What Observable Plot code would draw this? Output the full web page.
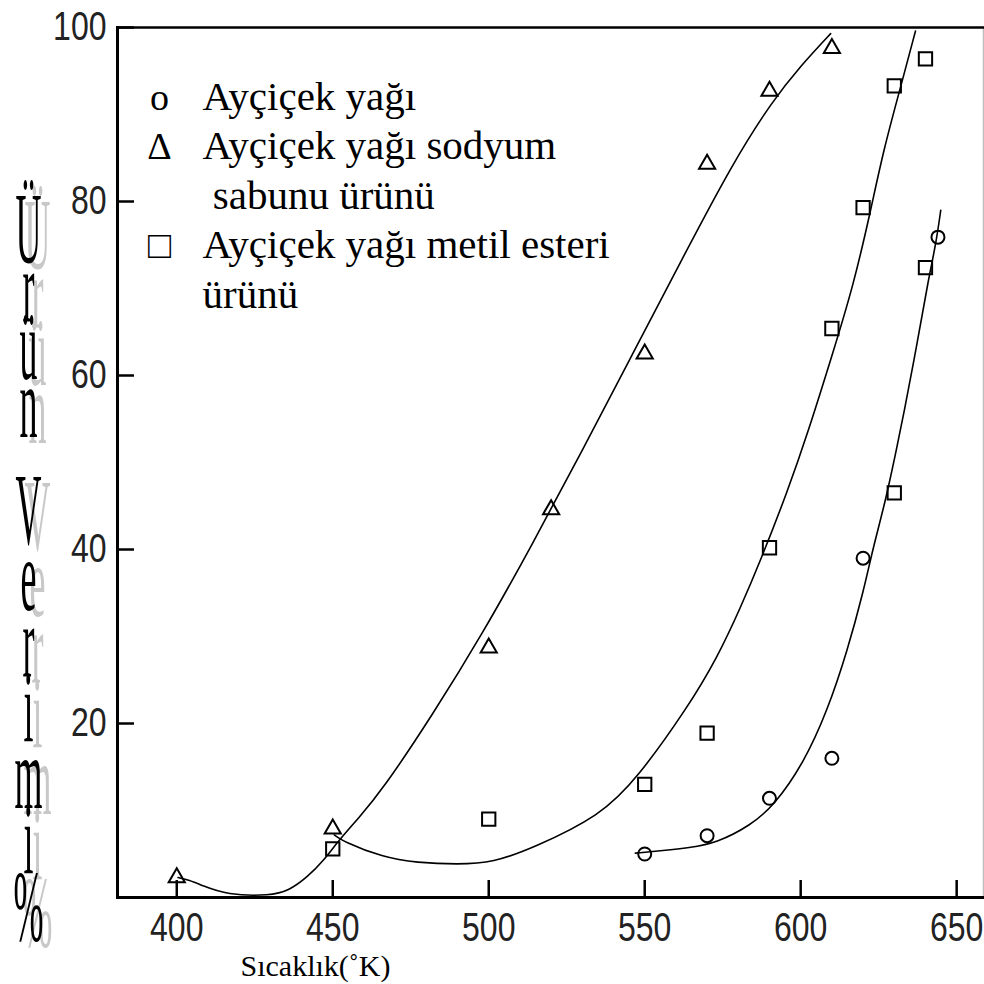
<!DOCTYPE html>
<html><head><meta charset="utf-8">
<script src="https://cdn.jsdelivr.net/npm/d3@7"></script>
<script src="https://cdn.jsdelivr.net/npm/@observablehq/plot@0.6"></script>
<style>
html,body{margin:0;padding:0;background:#fff;}
</style></head><body><div id="chart"></div>
<script>
// ---- data ----
const xTicks = [400, 450, 500, 550, 600, 650];
const yTickMarks = [0, 20, 40, 60, 80, 100];
const yTickLabels = ["", "20", "40", "60", "80", "100"];

// markers
const yagX = [550, 570, 590, 610, 620, 644];           // o  Ayçiçek yağı
const yagY = [5.0, 7.1, 11.4, 16.0, 39.0, 75.9];
const sabunX = [400, 450, 500, 520, 550, 570, 590, 610]; // Δ  sodyum sabunu ürünü
const sabunY = [2.3, 7.9, 28.7, 44.6, 62.5, 84.3, 92.7, 97.6];
const esterX = [450, 500, 550, 570, 590, 610, 620, 630, 640, 630, 640]; // □ metil esteri ürünü
const esterY = [5.6, 9.0, 13.0, 18.9, 40.2, 65.4, 79.3, 93.3, 96.4, 46.5, 72.4];

// fitted curves
const sabunCurveX = [400.4, 404, 408, 416, 430, 436, 441.7, 447, 452, 458, 466, 482, 498, 514, 530, 546, 562, 578, 591, 600, 609.6];
const sabunCurveY = [2.3, 2.0, 1.4, 0.3, 0.2, 0.8, 2.3, 4.2, 6.6, 9.0, 12.4, 21.0, 30.3, 40.6, 51.4, 62.4, 73.4, 84.3, 91.6, 95.6, 99.3];
const esterCurveX = [450.5, 453.0, 466.1, 477.0, 490, 501.4, 514.3, 535.8, 547.6, 563.7, 573.3, 580.7, 587.1, 595.8, 602.2, 610.5, 617.0, 622.4, 626.6, 632.0, 636.8];
const esterCurveY = [7.2, 6.5, 4.6, 4.0, 3.8, 4.0, 5.7, 9.4, 13.7, 21.8, 27.6, 33.3, 38.7, 46.7, 53.3, 62.8, 70.5, 78.9, 86.0, 93.1, 99.6];
const yagCurveX = [547.0, 556, 564.0, 573.3, 583.9, 591.3, 600.9, 608.6, 615.0, 620.2, 623.0, 627.2, 630.4, 633.0, 637.5, 641.0, 643.3, 644.9];
const yagCurveY = [5.1, 5.4, 5.7, 6.3, 8.3, 10.5, 15.4, 21.5, 28.4, 35.3, 39.9, 45.6, 51.0, 55.5, 64.0, 71.2, 75.0, 79.0];

// texts
const legendSymbols = ["o", "Δ", "", "□", ""];
const legendLabels = ["Ayçiçek yağı", "Ayçiçek yağı sodyum", "\u00a0sabunu ürünü", "Ayçiçek yağı metil esteri", "ürünü"];
const yTitleWords = ["Ürün", "Verimi%"];
const xTitle = "Sıcaklık(˚K)";

// ---- build ----
const zip = (xs, ys) => xs.map((x, i) => ({x, y: ys[i]}));
const tickFont = "'Liberation Sans', Arial, sans-serif";
const serif = "'Liberation Serif', 'Times New Roman', serif";
const lineOpts = {x: "x", y: "y", curve: "basis", stroke: "black", strokeWidth: 1.6};
const word = (w) => [...w].join("\n");
const stretch = 2.85;

const titleMarks = (fill, ox, oy) => [
  Plot.text([word(yTitleWords[0])], {text: d => d, frameAnchor: "top-left", textAnchor: "middle", lineAnchor: "top",
    dx: -89 + ox, dy: 194.8 + oy, fontSize: 36, fontFamily: serif, lineHeight: 58 / stretch / 36, fill}),
  Plot.text([word(yTitleWords[1])], {text: d => d, frameAnchor: "top-left", textAnchor: "middle", lineAnchor: "top",
    dx: -89 + ox, dy: 469 + oy, fontSize: 36, fontFamily: serif, lineHeight: 66.2 / stretch / 36, fill})
];

const plot = Plot.plot({
  width: 984, height: 984,
  marginLeft: 117, marginRight: 1, marginTop: 27, marginBottom: 87,
  x: {domain: [381, 658.6], label: null},
  y: {domain: [0, 100], label: null},
  style: {background: "white", color: "black", overflow: "visible"},
  marks: [
    Plot.frame({anchor: "right", stroke: "#bdbdbd", strokeWidth: 1.5}),
    Plot.frame({anchor: "top", stroke: "black", strokeWidth: 2.5}),
    Plot.frame({anchor: "left", stroke: "black", strokeWidth: 3}),
    Plot.frame({anchor: "bottom", stroke: "black", strokeWidth: 3}),
    Plot.axisX(xTicks, {tickSize: -17, tickPadding: 32, strokeWidth: 2.5, fontSize: 40, fontFamily: tickFont, label: null, fill: "#222"}),
    Plot.axisY(yTickMarks, {tickSize: -17, tickPadding: 28, strokeWidth: 2.5, fontSize: 40, fontFamily: tickFont, label: null,
      tickFormat: (d) => yTickLabels[yTickMarks.indexOf(d)], fill: "#222"}),
    Plot.line(zip(sabunCurveX, sabunCurveY), lineOpts),
    Plot.line(zip(esterCurveX, esterCurveY), lineOpts),
    Plot.line(zip(yagCurveX, yagCurveY), lineOpts),
    Plot.dot(zip(yagX, yagY), {x: "x", y: "y", symbol: "circle", r: 6.5, stroke: "black", strokeWidth: 2, fill: "none"}),
    Plot.dot(zip(sabunX, sabunY), {x: "x", y: "y", symbol: "triangle", r: 6, stroke: "black", strokeWidth: 2, fill: "none"}),
    Plot.dot(zip(esterX, esterY), {x: "x", y: "y", symbol: "square", r: 7.5, stroke: "black", strokeWidth: 2, fill: "none"}),
    // legend inside the frame
    Plot.text([legendSymbols.join("\n")], {text: d => d, frameAnchor: "top-left", textAnchor: "middle", lineAnchor: "top",
      dx: 42, dy: 47, fontSize: 38, lineHeight: 49.4 / 38, fontFamily: serif, fill: "black"}),
    Plot.text([legendLabels.join("\n")], {text: d => d, frameAnchor: "top-left", textAnchor: "start", lineAnchor: "top",
      dx: 85, dy: 47.4, fontSize: 41, lineHeight: 49.4 / 41, fontFamily: serif, fill: "black"}),
    // x title
    Plot.text([xTitle], {text: d => d, frameAnchor: "bottom-left", textAnchor: "start", lineAnchor: "top",
      dx: 123, dy: 56.7, fontSize: 30, fontFamily: serif, fill: "black"}),
    // y title (grey shadow + black), stretched vertically below
    ...titleMarks("#c8c8c8", 9, 6),
    ...titleMarks("black", 0, 0)
  ]
});

const svg = d3.select(plot);
// stretch the y title letters vertically
svg.selectAll("text").filter(function () { return yTitleWords.includes(this.textContent); }).each(function () {
  const t = this.getAttribute("transform") || "";
  this.setAttribute("transform", t + ` scale(1,${stretch})`);
});
// condense the tick labels
svg.selectAll('g[aria-label="x-axis tick label"] text, g[aria-label="y-axis tick label"] text').each(function () {
  const t = this.getAttribute("transform") || "";
  this.setAttribute("transform", t + " scale(0.8,1)");
});

document.getElementById("chart").appendChild(plot);
</script></body></html>
